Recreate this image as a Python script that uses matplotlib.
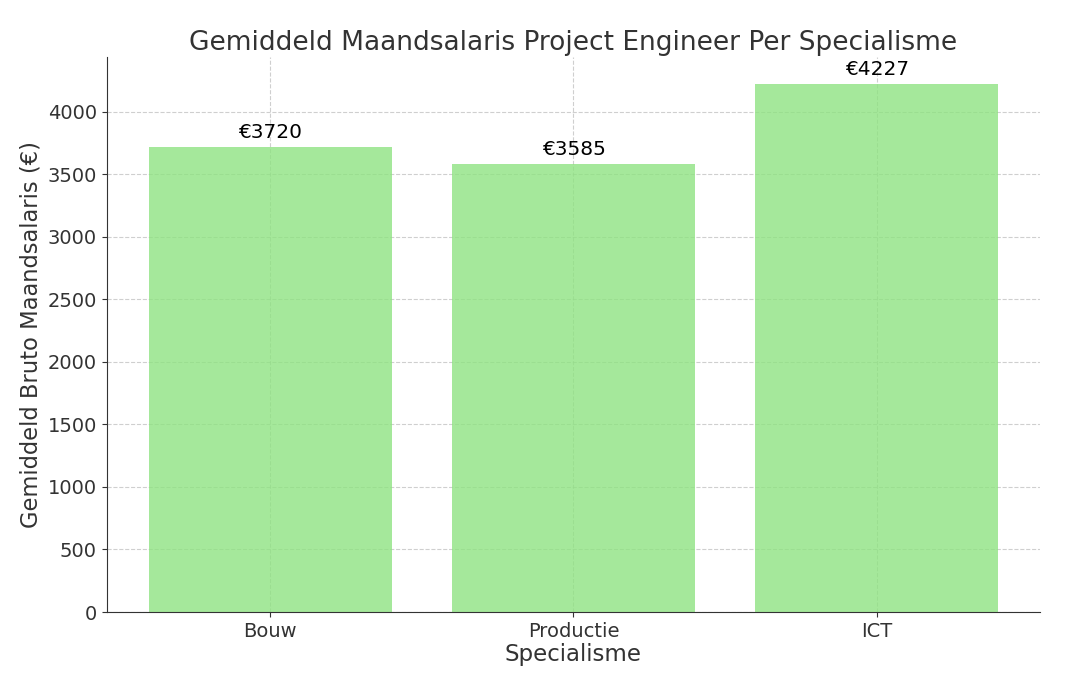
import matplotlib
matplotlib.use("Agg")
import matplotlib.pyplot as plt

# Data
specialismen = ["Bouw", "Productie", "ICT"]
salarissen = [3720, 3585, 4227]

plt.rcParams['font.family'] = ['DejaVu Sans']
plt.rcParams['text.color'] = '#333333'
plt.rcParams['axes.labelcolor'] = '#333333'
plt.rcParams['axes.edgecolor'] = '#333333'
plt.rcParams['xtick.color'] = '#333333'
plt.rcParams['ytick.color'] = '#333333'

fig, ax = plt.subplots(figsize=(10.78, 6.8), dpi=100)
bars = ax.bar(specialismen, salarissen, color='#8fe382', alpha=0.8, zorder=2)

for bar, val in zip(bars, salarissen):
    ax.text(bar.get_x() + bar.get_width() / 2, val + 40, f"€{val}",
            ha='center', va='bottom', fontsize=14.5, color='black')

ax.set_title("Gemiddeld Maandsalaris Project Engineer Per Specialisme", fontsize=19, pad=5)
ax.set_xlabel("Specialisme", fontsize=16.5, labelpad=2)
ax.set_ylabel("Gemiddeld Bruto Maandsalaris (€)", fontsize=16.3)
ax.tick_params(labelsize=14)
ax.grid(True, linestyle='--', alpha=0.6, zorder=0)
ax.spines['top'].set_visible(False)
ax.spines['right'].set_visible(False)

fig.subplots_adjust(left=0.099, right=0.965, top=0.916, bottom=0.1)
fig.savefig("out.png", dpi=100)
